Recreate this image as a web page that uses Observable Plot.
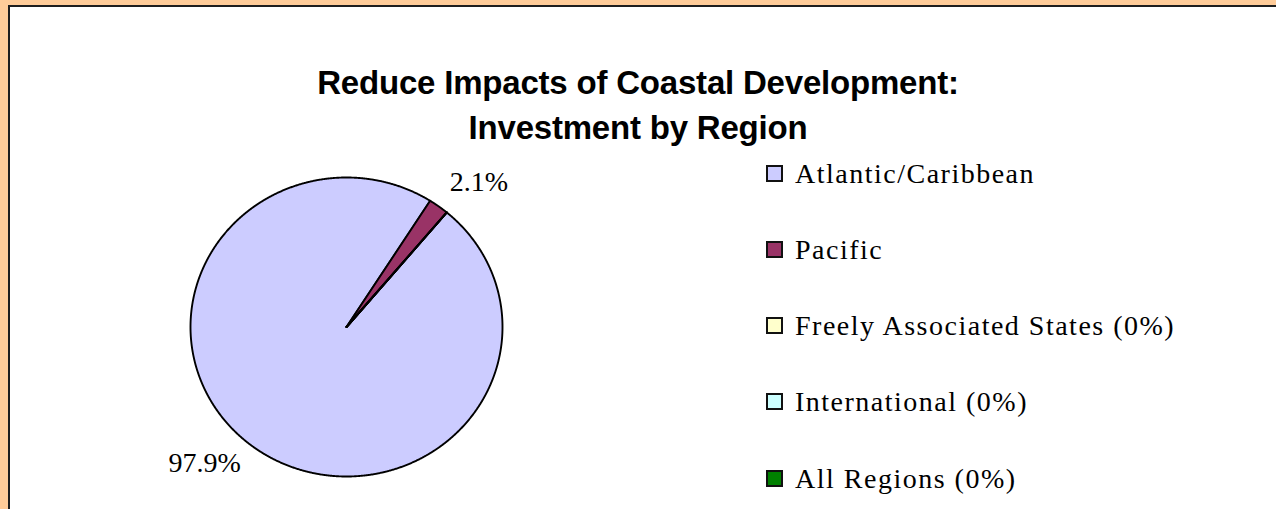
<!DOCTYPE html>
<html><head><meta charset="utf-8">
<script src="https://cdn.jsdelivr.net/npm/d3@7"></script>
<script src="https://cdn.jsdelivr.net/npm/@observablehq/plot@0.6"></script>
<style>
html,body{margin:0;padding:0;}
body{width:1276px;height:509px;background:#FFCC99;position:relative;overflow:hidden;}
#frame{position:absolute;left:8px;top:5px;width:1300px;height:600px;background:#fff;border-left:2px solid #1e1e1e;border-top:2px solid #1e1e1e;}
#title{position:absolute;left:0;width:1276px;top:60px;text-align:center;font-weight:bold;font-size:33px;font-family:"Liberation Sans",Arial,sans-serif;line-height:45px;letter-spacing:-0.2px;color:#000;}
#chart{position:absolute;left:0;top:0;}
.legend-row{position:absolute;left:766px;height:17px;display:flex;align-items:center;white-space:nowrap;}
.sw{width:17px;height:17px;box-sizing:border-box;border:2px solid #111;margin-right:12px;flex:none;}
.lab{font-size:28px;font-family:"Liberation Serif","Times New Roman",serif;line-height:17px;letter-spacing:1.5px;color:#000;}
</style></head>
<body>
<div id="frame"></div>
<div id="chart"></div>
<div id="title">Reduce Impacts of Coastal Development:<br>Investment by Region</div>
<div id="legend"></div>
<script>
const regions = ["Atlantic/Caribbean", "Pacific", "Freely Associated States", "International", "All Regions"];
const shares = [97.9, 2.1, 0, 0, 0];
const legendLabels = ["Atlantic/Caribbean", "Pacific", "Freely Associated States (0%)", "International (0%)", "All Regions (0%)"];
const sliceLabels = ["97.9%", "2.1%", "", "", ""];
const colors = ["#CCCCFF", "#993366", "#FFFFCC", "#CCFFFF", "#008000"];
const firstSliceAngle = 40; // degrees, clockwise from 12 o'clock

const rad = d => d * Math.PI / 180;
const arcs = d3.pie().sort(null).value(d => d)
  .startAngle(rad(firstSliceAngle)).endAngle(rad(firstSliceAngle + 360))(shares);

const slicePts = arcs.map((a, i) => {
  const pts = [{x: 0, y: 0}];
  const n = Math.max(1, Math.ceil((a.endAngle - a.startAngle) / rad(0.25)));
  for (let k = 0; k <= n; k++) {
    const t = a.startAngle + (a.endAngle - a.startAngle) * k / n;
    pts.push({x: Math.sin(t), y: Math.cos(t)});
  }
  pts.push({x: 0, y: 0});
  return pts;
});

const labelR = [1.07, 1.12, 1.1, 1.1, 1.1];
const labelShift = [[-7, -4], [0, -1], [0, 0], [0, 0], [0, 0]];
const labelMarks = arcs.map((a, i) => {
  if (!sliceLabels[i]) return null;
  const m = (a.startAngle + a.endAngle) / 2;
  const d = [{x: labelR[i] * Math.sin(m), y: labelR[i] * Math.cos(m), t: sliceLabels[i]}];
  return Plot.text(d, {
    x: "x", y: "y", text: "t",
    dx: labelShift[i][0], dy: labelShift[i][1],
    textAnchor: Math.sin(m) >= 0 ? "start" : "end",
    lineAnchor: Math.cos(m) >= 0 ? "bottom" : "top",
    fontSize: 28, fontFamily: "Liberation Serif, Times New Roman, serif", fill: "#000"
  });
}).filter(Boolean);

const chart = Plot.plot({
  width: 1276, height: 509, margin: 0,
  style: {background: "transparent", overflow: "visible"},
  x: {domain: [-1, 1], range: [190, 502], axis: null},
  y: {domain: [-1, 1], range: [476, 177], axis: null},
  marks: [
    ...slicePts.map((pts, i) => Plot.line(pts, {
      x: "x", y: "y", fill: colors[i], stroke: "#000", strokeWidth: 1.9, strokeLinejoin: "round"
    })),
    ...labelMarks
  ]
});
document.getElementById("chart").appendChild(chart);

const legend = document.getElementById("legend");
legendLabels.forEach((lab, i) => {
  const row = document.createElement("div");
  row.className = "legend-row";
  row.style.top = (164.5 + i * 76.3) + "px";
  const sw = document.createElement("div");
  sw.className = "sw";
  sw.style.background = colors[i];
  const tx = document.createElement("span");
  tx.className = "lab";
  tx.textContent = lab;
  row.appendChild(sw); row.appendChild(tx);
  legend.appendChild(row);
});
</script>
</body></html>
